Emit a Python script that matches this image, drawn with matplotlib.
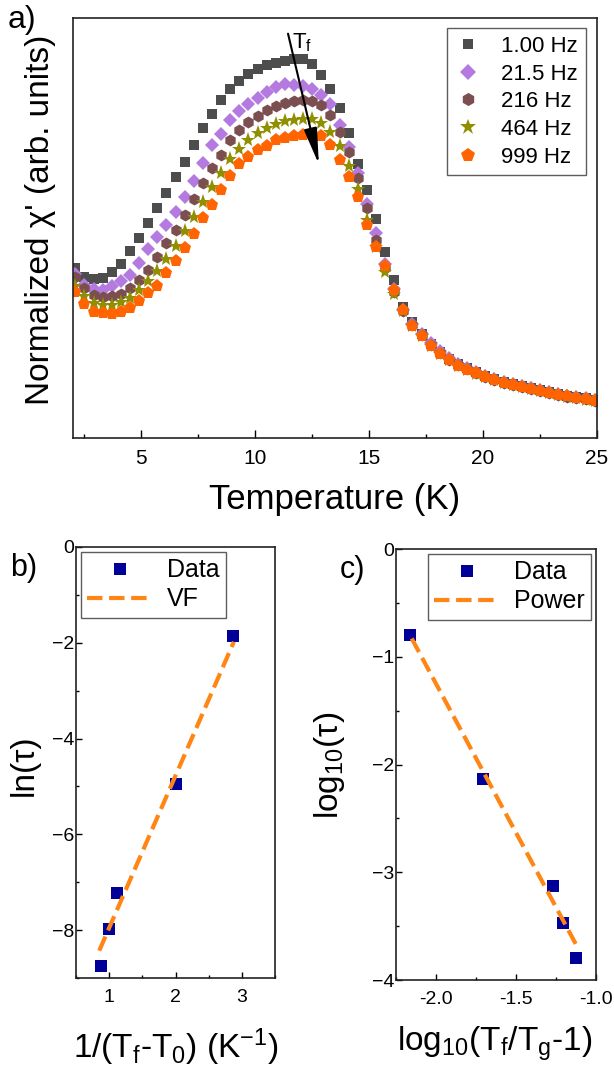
import matplotlib
matplotlib.use('Agg')
import matplotlib.pyplot as plt
from matplotlib.ticker import MultipleLocator, FormatStrFormatter

plt.rcParams['font.family'] = ['Liberation Sans', 'DejaVu Sans']
plt.rcParams['mathtext.default'] = 'regular'

# ---- panel a: normalized chi' vs temperature (arb. units) ----
temperature = [2.1, 2.5, 2.9, 3.3, 3.7, 4.1, 4.5, 4.9, 5.3, 5.7,
               6.1, 6.5, 6.9, 7.3, 7.7, 8.1, 8.5, 8.9, 9.3, 9.7,
               10.1, 10.5, 10.9, 11.3, 11.7, 12.1, 12.5, 12.9, 13.3, 13.7,
               14.1, 14.5, 14.9, 15.3, 15.7, 16.1, 16.5, 16.9, 17.3, 17.7,
               18.1, 18.5, 18.9, 19.3, 19.7, 20.1, 20.5, 20.9, 21.3, 21.7,
               22.1, 22.5, 22.9, 23.3, 23.7, 24.1, 24.5, 24.9]

chi_1hz = [170, 161, 159, 160, 166, 174, 187, 200, 215, 230,
           245, 261, 276, 293, 310, 324, 338, 349, 357, 364,
           369, 373, 375, 377, 379, 379, 374, 363, 349, 330,
           305, 274, 248, 219, 186, 158, 131, 116, 104, 94,
           86, 79, 74, 70, 66, 62, 59, 56, 54, 52,
           50, 48, 46, 44, 42, 41, 40, 38]
chi_21hz = [164, 153, 149, 148, 152, 157, 163, 175, 189, 201,
            213, 226, 241, 257, 275, 293, 304, 318, 327, 334,
            340, 346, 351, 354, 353, 352, 349, 343, 334, 313,
            291, 265, 234, 205, 174, 149, 128, 114, 104, 95,
            87, 80, 74, 70, 66, 62, 59, 56, 54, 52,
            50, 48, 46, 44, 42, 41, 40, 38]
chi_216hz = [161, 150, 143, 141, 142, 144, 150, 158, 168, 181,
             195, 208, 223, 239, 255, 270, 283, 298, 308, 316,
             322, 328, 332, 335, 337, 338, 337, 333, 323, 306,
             286, 260, 230, 198, 170, 146, 127, 113, 103, 93,
             85, 78, 73, 69, 65, 61, 58, 55, 53, 51,
             49, 47, 45, 43, 41, 40, 39, 37]
chi_464hz = [152, 142, 135, 133, 133, 136, 140, 148, 157, 167,
             179, 192, 207, 221, 236, 251, 265, 279, 289, 298,
             305, 310, 314, 317, 318, 319, 319, 315, 306, 292,
             272, 249, 218, 191, 166, 144, 127, 112, 102, 92,
             84, 78, 72, 68, 64, 61, 58, 55, 53, 51,
             49, 47, 45, 43, 41, 40, 38, 37]
chi_999hz = [146, 134, 126, 125, 124, 126, 130, 137, 145, 152,
             165, 177, 190, 204, 220, 233, 248, 262, 274, 281,
             288, 292, 298, 300, 302, 303, 303, 302, 293, 278,
             261, 241, 213, 191, 172, 148, 128, 112, 102, 92,
             84, 78, 72, 68, 65, 61, 58, 55, 53, 51,
             49, 47, 45, 43, 42, 40, 39, 37]

freq_labels = ['1.00 Hz', '21.5 Hz', '216 Hz', '464 Hz', '999 Hz']
freq_colors = ['#4d4d4d', '#b57ae0', '#7b4e50', '#8f8f00', '#ff6400']
freq_markers = ['s', 'D', 'h', '*', 'p']
freq_sizes = [7.0, 7.6, 8.6, 11.0, 9.6]

# ---- panel b: Vogel-Fulcher ----
vf_x = [0.874, 1.00, 1.117, 2.01, 2.874]
vf_y = [-8.76, -7.98, -7.22, -4.94, -1.85]
vf_fit_x = [0.85, 2.88]
vf_fit_y = [-8.43, -1.98]

# ---- panel c: power law ----
pw_x = [-2.163, -1.708, -1.267, -1.204, -1.125]
pw_y = [-0.80, -2.13, -3.13, -3.47, -3.80]
pw_fit_x = [-2.152, -1.125]
pw_fit_y = [-0.83, -3.67]

fig = plt.figure(figsize=(6.14, 10.78), dpi=100)

ax_a = fig.add_axes([0.1189, 0.5937, 0.8534, 0.3896])
series = [chi_1hz, chi_21hz, chi_216hz, chi_464hz, chi_999hz]
for vals, lab, col, mk, ms in zip(series, freq_labels, freq_colors, freq_markers, freq_sizes):
    ax_a.plot(temperature, vals, linestyle='none', marker=mk, markersize=ms,
              color=col, markeredgewidth=0, label=lab)
ax_a.set_xlim(2, 25)
ax_a.set_ylim(0, 420)
ax_a.xaxis.set_major_locator(MultipleLocator(5))
ax_a.xaxis.set_minor_locator(MultipleLocator(2.5))
ax_a.tick_params(axis='x', which='major', direction='in', length=6, width=1, labelsize=15, pad=8)
ax_a.tick_params(axis='x', which='minor', direction='in', length=3, width=1)
ax_a.tick_params(axis='y', left=False, labelleft=False)
ax_a.set_xlabel('Temperature (K)', fontsize=25)
ax_a.set_ylabel("Normalized χ' (arb. units)", fontsize=24)
ax_a.xaxis.set_label_coords(0.5, -0.108)
ax_a.yaxis.set_label_coords(-0.032, 0.52)
leg = ax_a.legend(loc='upper right', bbox_to_anchor=(0.979, 0.976), borderaxespad=0,
                  fontsize=16, frameon=True, fancybox=False, labelspacing=0.3,
                  handletextpad=0.9, handlelength=1.2, borderpad=0.35, markerscale=1.1)
leg.get_frame().set_edgecolor('#333333')
leg.get_frame().set_linewidth(1)
ax_a.annotate('', xy=(12.82, 271), xytext=(11.41, 407),
              arrowprops=dict(arrowstyle='-|>,head_length=1.1,head_width=0.2',
                              mutation_scale=20, lw=1.5, color='k'))
ax_a.text(11.6, 384, 'T$_f$', fontsize=16, ha='left', va='bottom')
fig.text(0.012, 0.995, 'a)', fontsize=23, ha='left', va='top')

# panel b
ax_b = fig.add_axes([0.1238, 0.0928, 0.3241, 0.3998])
ax_b.plot(vf_x, vf_y, linestyle='none', marker='s', markersize=9,
          color='#000099', markeredgewidth=0, label='Data')
ax_b.plot(vf_fit_x, vf_fit_y, linestyle='--', lw=3, color='#ff8514', label='VF')
ax_b.set_xlim(0.5, 3.5)
ax_b.set_ylim(-9, 0)
ax_b.xaxis.set_major_locator(MultipleLocator(1))
ax_b.xaxis.set_minor_locator(MultipleLocator(0.5))
ax_b.yaxis.set_major_locator(MultipleLocator(2))
ax_b.yaxis.set_minor_locator(MultipleLocator(1))
ax_b.set_xlabel('1/(T$_f$-T$_0$) (K$^{-1}$)', fontsize=24)
ax_b.set_ylabel('ln(τ)', fontsize=24)
ax_b.xaxis.set_label_coords(0.5, -0.112)
ax_b.yaxis.set_label_coords(-0.181, 0.494)
leg_b = ax_b.legend(loc='upper left', bbox_to_anchor=(0.025, 0.988), borderaxespad=0,
                    fontsize=18, fancybox=False, handlelength=2.6, labelspacing=0.2,
                    handletextpad=0.6, borderpad=0.25)
leg_b.get_frame().set_edgecolor('#333333')
fig.text(0.016, 0.487, 'b)', fontsize=22, ha='left', va='top')

# panel c
ax_c = fig.add_axes([0.645, 0.0909, 0.3257, 0.3998])
ax_c.plot(pw_x, pw_y, linestyle='none', marker='s', markersize=9,
          color='#000099', markeredgewidth=0, label='Data')
ax_c.plot(pw_fit_x, pw_fit_y, linestyle='--', lw=3, color='#ff8514', label='Power')
ax_c.set_xlim(-2.25, -1.0)
ax_c.set_ylim(-4, 0)
ax_c.xaxis.set_major_locator(MultipleLocator(0.5))
ax_c.xaxis.set_minor_locator(MultipleLocator(0.25))
ax_c.yaxis.set_major_locator(MultipleLocator(1))
ax_c.yaxis.set_minor_locator(MultipleLocator(0.5))
ax_c.xaxis.set_major_formatter(FormatStrFormatter('%.1f'))
ax_c.set_xlabel('log$_{10}$(T$_f$/T$_g$-1)', fontsize=24)
ax_c.set_ylabel('log$_{10}$(τ)', fontsize=24)
ax_c.xaxis.set_label_coords(0.495, -0.104)
ax_c.yaxis.set_label_coords(-0.245, 0.499)
leg_c = ax_c.legend(loc='upper right', bbox_to_anchor=(0.975, 0.988), borderaxespad=0,
                    fontsize=18, fancybox=False, handlelength=2.6, labelspacing=0.2,
                    handletextpad=0.6, borderpad=0.25)
leg_c.get_frame().set_edgecolor('#333333')
fig.text(0.553, 0.485, 'c)', fontsize=22, ha='left', va='top')

for ax in (ax_b, ax_c):
    ax.tick_params(which='major', direction='in', length=4, width=1, labelsize=14)
    ax.tick_params(axis='y', which='major', pad=1.5)
    ax.tick_params(axis='x', which='major', pad=8)
    ax.tick_params(which='minor', direction='in', length=2.5, width=1)

for ax in (ax_a, ax_b, ax_c):
    for sp in ax.spines.values():
        sp.set_linewidth(1.2)
        sp.set_color('#222222')

fig.savefig('out.png', dpi=100)
